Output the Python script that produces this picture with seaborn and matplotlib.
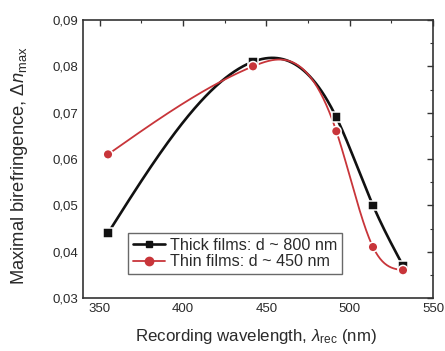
import numpy as np
import matplotlib
matplotlib.use("Agg")
import matplotlib.pyplot as plt
from matplotlib.lines import Line2D
from matplotlib.ticker import MultipleLocator, FuncFormatter
import seaborn as sns
import pandas as pd

# ---- data ----
wavelength = [355, 442, 492, 514, 532]
thick = [0.044, 0.081, 0.069, 0.050, 0.037]
thin = [0.061, 0.080, 0.066, 0.041, 0.036]
series_labels = ["Thick films: d ~ 800 nm", "Thin films: d ~ 450 nm"]
xticks = [350, 400, 450, 500, 550]
yticks = [0.03, 0.04, 0.05, 0.06, 0.07, 0.08, 0.09]

BLACK = "#111111"
RED = "#c8353a"
TXT = "#2a2a2a"


def natural_spline(x, y, n=400):
    x = np.asarray(x, float); y = np.asarray(y, float)
    k = len(x); h = np.diff(x)
    A = np.zeros((k, k)); b = np.zeros(k)
    A[0, 0] = A[-1, -1] = 1
    for i in range(1, k - 1):
        A[i, i - 1] = h[i - 1]; A[i, i] = 2 * (h[i - 1] + h[i]); A[i, i + 1] = h[i]
        b[i] = 6 * ((y[i + 1] - y[i]) / h[i] - (y[i] - y[i - 1]) / h[i - 1])
    M = np.linalg.solve(A, b)
    xs = np.linspace(x[0], x[-1], n)
    j = np.clip(np.searchsorted(x, xs) - 1, 0, k - 2)
    t0 = x[j + 1] - xs; t1 = xs - x[j]; hj = h[j]
    ys = (M[j] * t0 ** 3 + M[j + 1] * t1 ** 3) / (6 * hj) + \
         (y[j] / hj - M[j] * hj / 6) * t0 + (y[j + 1] / hj - M[j + 1] * hj / 6) * t1
    return xs, ys


sns.set_theme(style="white")
plt.rcParams["font.family"] = ["Liberation Sans", "DejaVu Sans"]
plt.rcParams["mathtext.fontset"] = "custom"
plt.rcParams["mathtext.rm"] = "Liberation Sans"
plt.rcParams["mathtext.it"] = "Liberation Sans:italic"

fig = plt.figure(figsize=(4.45, 3.51), dpi=100)
ax = fig.add_axes([0.1865, 0.151, 0.7865, 0.792])

bx, by = natural_spline(wavelength, thick)
rx, ry = natural_spline(wavelength, thin)
sns.lineplot(x=bx, y=by, color=BLACK, linewidth=1.9, ax=ax, sort=False, estimator=None)
sns.lineplot(x=rx, y=ry, color=RED, linewidth=1.3, ax=ax, sort=False, estimator=None)

pts = pd.DataFrame({"x": wavelength * 2, "y": thick + thin,
                    "s": [series_labels[0]] * 5 + [series_labels[1]] * 5})
sns.scatterplot(data=pts, x="x", y="y", hue="s", style="s",
                markers={series_labels[0]: "s", series_labels[1]: "o"},
                palette=[BLACK, RED], s=48, edgecolor="white", linewidth=1.1,
                legend=False, ax=ax, zorder=5)

ax.set_xlim(340, 550)
ax.set_ylim(0.03, 0.09)
ax.set_xticks(xticks)
ax.set_yticks(yticks)
ax.xaxis.set_minor_locator(MultipleLocator(25))
ax.yaxis.set_minor_locator(MultipleLocator(0.005))
ax.yaxis.set_major_formatter(FuncFormatter(lambda v, p: f"{v:.2f}".replace(".", ",")))
ax.tick_params(which="both", direction="in", top=True, right=True,
               color="#333333", labelcolor=TXT, labelsize=9.5)
ax.tick_params(which="major", length=4, width=1)
ax.tick_params(which="minor", length=2.5, width=0.8)
for sp in ax.spines.values():
    sp.set_color("#333333"); sp.set_linewidth(1.2)

ax.set_xlabel(r"Recording wavelength, $\lambda_{\mathrm{rec}}$ (nm)", fontsize=12.2, color=TXT)
ax.set_ylabel(r"Maximal birefringence, $\Delta n_{\mathrm{max}}$", fontsize=13.2, color=TXT)
ax.xaxis.set_label_coords(0.495, -0.137)
ax.yaxis.set_label_coords(-0.18, 0.475)
ax.xaxis.label.set_verticalalignment("center")
ax.yaxis.label.set_verticalalignment("center")

handles = [Line2D([], [], color=BLACK, marker="s", markersize=5, linewidth=1.9),
           Line2D([], [], color=RED, marker="o", markersize=6, linewidth=1.3)]
leg = ax.legend(handles, series_labels, loc="lower left", bbox_to_anchor=(0.129, 0.086),
                fontsize=11.6, frameon=True, fancybox=False, handlelength=2.0,
                handletextpad=0.3, borderpad=0.3, labelspacing=0.1,
                borderaxespad=0)
leg.get_frame().set_edgecolor("#444444")
leg.get_frame().set_linewidth(1.0)
for t in leg.get_texts():
    t.set_color(TXT)

fig.savefig("out.png", dpi=100)
